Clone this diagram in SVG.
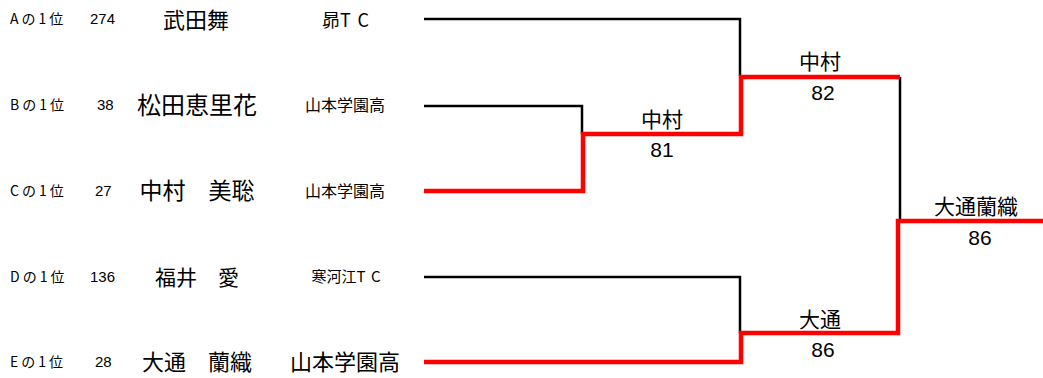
<svg xmlns="http://www.w3.org/2000/svg" width="1043" height="378" viewBox="0 0 1043 378">
<style>
text{font-family:"Noto Sans CJK JP","Liberation Sans",sans-serif;fill:#000}
.seed{font-size:14px;letter-spacing:3px}
.num{font-family:"Liberation Sans","Noto Sans CJK JP",sans-serif;font-size:15px}
.name{text-anchor:middle}
.club{text-anchor:middle}
.res{font-size:21px;text-anchor:middle}
.score{font-family:"Liberation Sans",sans-serif;font-size:21px;text-anchor:middle}
.blk{fill:none;stroke:#000;stroke-width:2.5}
.red{fill:none;stroke:#f00;stroke-width:4.5}
</style>
<rect width="1043" height="378" fill="#fff"/>
<g id="connectors">
<polyline class="blk" points="424,19 740,19 740,76"/>
<polyline class="blk" points="424,106 582,106 582,134"/>
<polyline class="blk" points="424,277 740,277 740,333"/>
<polyline class="blk" points="900,77 900,221"/>
<polyline class="red" points="424,191 583,191 583,134 741,134 741,77 900,77"/>
<polyline class="red" points="424,362 741,362 741,333 898,333 898,221 1043,221"/>
</g>
<g id="node-a">
<text class="seed" x="10" y="24">Aの1位</text>
<text class="num" x="90" y="24">274</text>
<text class="name" x="196" y="28" font-size="22">武田舞</text>
<text class="club" x="349" y="27" font-size="18">昴<tspan letter-spacing="7">TC</tspan></text>
</g>
<g id="node-b">
<text class="seed" x="10" y="110">Bの1位</text>
<text class="num" x="97" y="110">38</text>
<text class="name" x="197" y="114" font-size="24">松田恵里花</text>
<text class="club" x="345" y="111" font-size="16">山本学園高</text>
</g>
<g id="node-c">
<text class="seed" x="10" y="196">Cの1位</text>
<text class="num" x="95" y="196">27</text>
<text class="name" x="197" y="199" font-size="23">中村　美聡</text>
<text class="club" x="345" y="197" font-size="16">山本学園高</text>
</g>
<g id="node-d">
<text class="seed" x="10" y="282">Dの1位</text>
<text class="num" x="90" y="282">136</text>
<text class="name" x="197" y="285" font-size="21">福井　愛</text>
<text class="club" x="349" y="282" font-size="15">寒河江<tspan letter-spacing="6">TC</tspan></text>
</g>
<g id="node-e">
<text class="seed" x="10" y="367">Eの1位</text>
<text class="num" x="95" y="367">28</text>
<text class="name" x="197" y="370" font-size="22">大通　蘭織</text>
<text class="club" x="345" y="370" font-size="22">山本学園高</text>
</g>
<g id="match-1">
<text class="res" x="662" y="127">中村</text>
<text class="score" x="662" y="157">81</text>
</g>
<g id="match-2">
<text class="res" x="820" y="69">中村</text>
<text class="score" x="823" y="100">82</text>
</g>
<g id="match-3">
<text class="res" x="820" y="327">大通</text>
<text class="score" x="823" y="357">86</text>
</g>
<g id="final">
<text class="res" x="976" y="214" font-size="22">大通蘭織</text>
<text class="score" x="980" y="245">86</text>
</g>
</svg>
